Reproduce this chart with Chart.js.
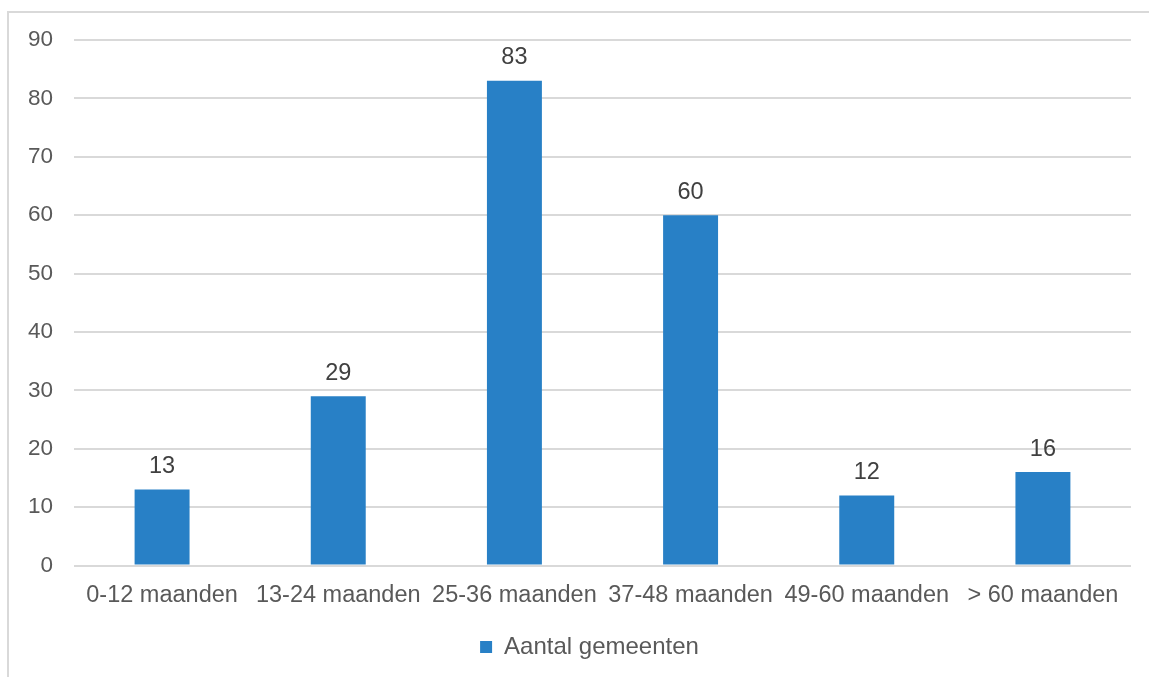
<!DOCTYPE html>
<html>
<head>
<meta charset="utf-8">
<script src="https://cdn.jsdelivr.net/npm/chart.js@4.4.1/dist/chart.umd.min.js"></script>
<style>
  html, body { margin: 0; padding: 0; background: #ffffff; overflow: hidden; width: 1149px; height: 677px; }
  #frame { position: absolute; left: 7px; top: 11px; width: 2000px; height: 2000px; border: 2px solid #d9d9d9; box-sizing: border-box; }
  #wrap { position: absolute; left: 0; top: 0; width: 1149px; height: 677px; }
</style>
</head>
<body>
<div id="frame"></div>
<div id="wrap"><canvas id="c" width="1149" height="677"></canvas></div>
<script>
const categories = ["0-12 maanden", "13-24 maanden", "25-36 maanden", "37-48 maanden", "49-60 maanden", "> 60 maanden"];
const seriesName = "Aantal gemeenten";
const values = [13, 29, 83, 60, 12, 16];
const yMin = 0, yMax = 90, yStep = 10;

const FONT = "'Liberation Sans', Arial, sans-serif";

const dataLabels = {
  id: 'dataLabels',
  afterDatasetsDraw(chart) {
    const ctx = chart.ctx;
    const meta = chart.getDatasetMeta(0);
    ctx.save();
    ctx.font = "23.5px " + FONT;
    ctx.fillStyle = "#404040";
    ctx.textAlign = "center";
    ctx.textBaseline = "alphabetic";
    meta.data.forEach((bar, i) => {
      ctx.fillText(String(values[i]), bar.x, bar.y - 16.5);
    });
    ctx.restore();
  }
};

const legendShift = {
  id: 'legendShift',
  afterLayout(chart) {
    if (chart.legend) { chart.legend.left += 24; chart.legend.right += 24; }
  }
};

new Chart(document.getElementById('c'), {
  type: 'bar',
  data: {
    labels: categories,
    datasets: [{
      label: seriesName,
      data: values,
      backgroundColor: '#2880c6',
      borderWidth: 0,
      categoryPercentage: 1,
      barPercentage: 0.312
    }]
  },
  options: {
    responsive: false,
    animation: false,
    devicePixelRatio: 1,
    layout: { padding: { left: 0, right: 18, top: 40, bottom: 8 } },
    plugins: {
      tooltip: { enabled: false },
      legend: {
        position: 'bottom',
        labels: {
          boxWidth: 12,
          boxHeight: 12,
          padding: 10,
          color: '#595959',
          font: { family: FONT, size: 24 }
        }
      }
    },
    scales: {
      x: {
        grid: { display: false, drawTicks: false },
        border: { display: false },
        ticks: { color: '#595959', font: { family: FONT, size: 23.5 }, padding: 16, maxRotation: 0, autoSkip: false },
        afterFit(scale) { scale.height = 59.5; }
      },
      y: {
        min: yMin, max: yMax,
        grid: { color: '#d9d9d9', lineWidth: 2, drawTicks: false },
        border: { display: false },
        ticks: { stepSize: yStep, color: '#595959', font: { family: FONT, size: 22.5 }, padding: 21 },
        afterFit(scale) { scale.width = 74; }
      }
    }
  },
  plugins: [dataLabels, legendShift]
});
</script>
</body>
</html>
